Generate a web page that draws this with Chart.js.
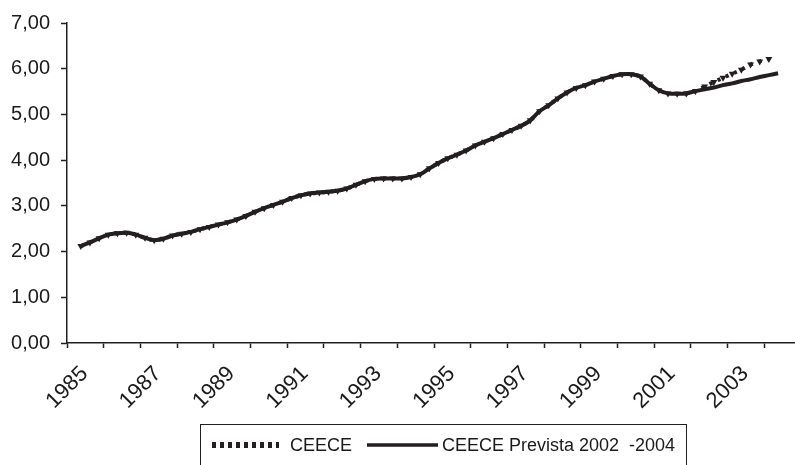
<!DOCTYPE html>
<html>
<head>
<meta charset="utf-8">
<script src="https://cdn.jsdelivr.net/npm/chart.js@4.4.1/dist/chart.umd.min.js"></script>
<style>
  html, body { margin: 0; padding: 0; background: #fff; overflow: hidden; }
  #wrap { width: 795px; height: 465px; overflow: hidden; }
</style>
</head>
<body>
<div id="wrap"><canvas id="chart" width="801" height="465"></canvas></div>
<script>
// quarterly data, 1985 Q1 .. 2004 Q4
const years = [1985, 1986, 1987, 1988, 1989, 1990, 1991, 1992, 1993, 1994,
               1995, 1996, 1997, 1998, 1999, 2000, 2001, 2002, 2003, 2004];
const labelYears = [1985, 1987, 1989, 1991, 1993, 1995, 1997, 1999, 2001, 2003];
const yTicks = [0, 1, 2, 3, 4, 5, 6, 7];

// common history up to 2002 Q1
const history = [null,
  2.12, 2.20, 2.29, 2.37, 2.40, 2.41, 2.37, 2.30, 2.25, 2.28,
  2.35, 2.39, 2.43, 2.49, 2.54, 2.59, 2.64, 2.70, 2.78, 2.87,
  2.95, 3.02, 3.09, 3.17, 3.23, 3.27, 3.29, 3.31, 3.33, 3.38,
  3.46, 3.54, 3.59, 3.60, 3.60, 3.60, 3.63, 3.69, 3.82, 3.94,
  4.04, 4.12, 4.21, 4.32, 4.40, 4.48, 4.57, 4.66, 4.75, 4.87,
  5.07, 5.20, 5.35, 5.48, 5.58, 5.64, 5.72, 5.78, 5.84, 5.88,
  5.88, 5.83, 5.67, 5.53, 5.46, 5.45, 5.46, 5.51];
const ceeceTail = [5.61, 5.71, 5.80, 5.89, 5.98, 6.09, 6.16, 6.21];
const previstaTail = [5.55, 5.59, 5.64, 5.68, 5.73, 5.77, 5.82, 5.86, 5.90];

const ceece = history.concat(ceeceTail);
const ceecePrevista = history.concat(previstaTail);

const categories = [];
years.forEach(y => { for (let q = 1; q <= 4; q++) categories.push(y + ' T' + q); });

const ink = '#231f20';
const font = '"Liberation Sans", Arial, sans-serif';

const legendBox = {
    id: 'legendBox',
    afterDraw(chart) {
        const c = chart.ctx;
        const ds = chart.data.datasets;
        c.save();
        c.strokeStyle = ink;
        c.lineWidth = 1;
        c.strokeRect(200.5, 424.5, 486, 60);
        c.font = '18px ' + font;
        c.fillStyle = '#1a1a1a';
        c.textBaseline = 'middle';
        // dotted sample
        c.setLineDash([4, 4]);
        c.lineWidth = 6;
        c.beginPath(); c.moveTo(212, 445); c.lineTo(279, 445); c.stroke();
        c.setLineDash([]);
        c.fillText(ds[0].label, 290, 446);
        // solid sample
        c.lineWidth = 3.5;
        c.beginPath(); c.moveTo(367, 445); c.lineTo(438, 445); c.stroke();
        c.fillText(ds[1].label, 442, 446);
        c.restore();
    }
};

new Chart(document.getElementById('chart'), {
    type: 'line',
    data: {
        labels: categories,
        datasets: [{
            label: 'CEECE',
            data: ceece,
            borderColor: ink,
            borderWidth: 4,
            borderDash: [3, 6],
            pointStyle: 'triangle',
            rotation: 180,
            pointRadius: 4,
            pointBackgroundColor: ink,
            pointBorderWidth: 0,
            tension: 0.3,
            order: 0
        }, {
            label: 'CEECE Prevista 2002  -2004',
            data: ceecePrevista,
            borderColor: ink,
            borderWidth: 4,
            pointRadius: 0,
            tension: 0.3,
            order: 1
        }]
    },
    options: {
        responsive: false,
        animation: false,
        devicePixelRatio: 1,
        layout: { autoPadding: false, padding: { top: 22, left: 0, right: 0, bottom: 0 } },
        plugins: { legend: { display: false }, tooltip: { enabled: false } },
        scales: {
            x: {
                type: 'category',
                offset: true,
                afterFit: s => { s.height = 122; s.paddingRight = 0; s.paddingLeft = 0; },
                border: { color: ink, width: 1.5 },
                grid: {
                    offset: true,
                    drawOnChartArea: false,
                    tickLength: 5,
                    tickWidth: 1.5,
                    tickColor: ctx => (ctx.index !== undefined && ctx.index % 4 === 0) ? ink : 'rgba(0,0,0,0)'
                },
                ticks: {
                    autoSkip: false,
                    maxRotation: 45,
                    minRotation: 45,
                    padding: 13,
                    labelOffset: 13,
                    color: '#1a1a1a',
                    font: { family: font, size: 22 },
                    callback: (v, i) => {
                        const y = years[Math.floor(i / 4)];
                        return (i % 4 === 0 && labelYears.includes(y)) ? String(y) : '';
                    }
                }
            },
            y: {
                min: yTicks[0],
                max: yTicks[yTicks.length - 1],
                afterFit: s => { s.width = 67; },
                afterBuildTicks: s => { s.ticks = yTicks.map(v => ({ value: v })); },
                border: { color: ink, width: 1.5 },
                grid: { drawOnChartArea: false, tickLength: 6, tickWidth: 1.5, tickColor: ink },
                ticks: {
                    padding: 11,
                    color: '#1a1a1a',
                    font: { family: font, size: 20 },
                    callback: v => v.toFixed(2).replace('.', ',')
                }
            }
        }
    },
    plugins: [legendBox]
});
</script>
</body>
</html>
